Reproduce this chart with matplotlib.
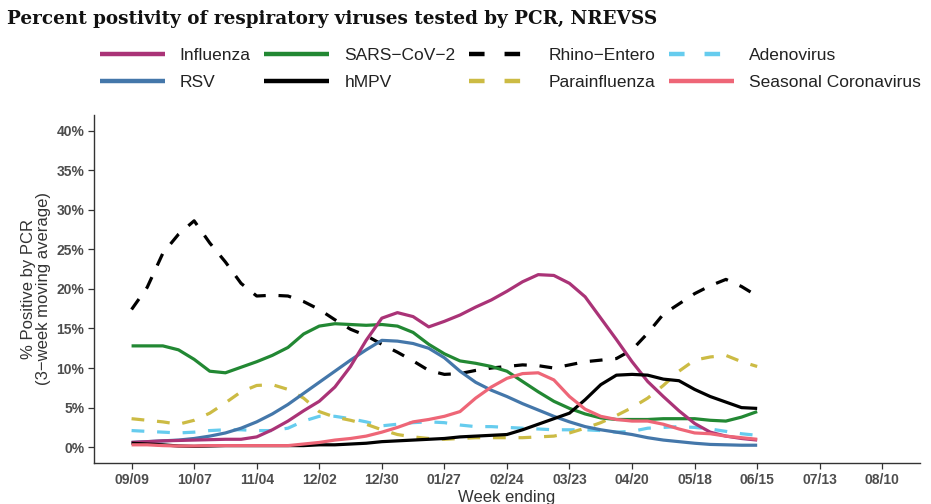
import matplotlib
matplotlib.use("Agg")
import matplotlib.pyplot as plt
import matplotlib.dates as mdates
from matplotlib.ticker import FixedLocator, FuncFormatter
from matplotlib.lines import Line2D
import pandas as pd

start_date = "2023-09-09"
n_weeks = 41
tick_dates = ["2023-09-09", "2023-10-07", "2023-11-04", "2023-12-02", "2023-12-30",
              "2024-01-27", "2024-02-24", "2024-03-23", "2024-04-20", "2024-05-18",
              "2024-06-15", "2024-07-13", "2024-08-10"]

influenza = [0.6, 0.7, 0.8, 0.85, 0.9, 0.95, 1.0, 1.0, 1.3, 2.2, 3.3, 4.6, 5.8, 7.6, 10.2,
             13.5, 16.3, 17.0, 16.5, 15.2, 15.9, 16.7, 17.7, 18.6, 19.7, 20.9, 21.8, 21.7,
             20.7, 19.0, 16.3, 13.6, 10.8, 8.3, 6.4, 4.6, 3.0, 1.9, 1.4, 1.1, 0.9]
rsv = [0.6, 0.7, 0.8, 0.9, 1.1, 1.4, 1.8, 2.4, 3.2, 4.2, 5.4, 6.8, 8.2, 9.6, 11.0, 12.3,
       13.5, 13.4, 13.1, 12.5, 11.3, 9.6, 8.2, 7.2, 6.4, 5.5, 4.7, 3.9, 3.2, 2.6, 2.2, 1.9,
       1.6, 1.2, 0.9, 0.7, 0.5, 0.35, 0.3, 0.25, 0.25]
sars = [12.8, 12.8, 12.8, 12.3, 11.1, 9.6, 9.4, 10.1, 10.8, 11.6, 12.6, 14.3, 15.3, 15.6,
        15.5, 15.4, 15.5, 15.3, 14.5, 13.0, 11.8, 10.9, 10.6, 10.2, 9.6, 8.3, 7.0, 5.8, 4.9,
        4.2, 3.7, 3.5, 3.5, 3.5, 3.6, 3.6, 3.6, 3.4, 3.3, 3.8, 4.5]
hmpv = [0.5, 0.4, 0.3, 0.15, 0.1, 0.15, 0.2, 0.2, 0.2, 0.2, 0.2, 0.2, 0.3, 0.3, 0.4, 0.5,
        0.7, 0.8, 0.9, 1.0, 1.1, 1.3, 1.4, 1.5, 1.6, 2.2, 2.9, 3.6, 4.3, 6.0, 7.9, 9.1, 9.2,
        9.1, 8.6, 8.4, 7.3, 6.4, 5.7, 5.0, 4.9]
rhino = [17.4, 20.2, 24.5, 26.9, 28.6, 25.8, 23.4, 20.7, 19.1, 19.2, 19.1, 18.4, 17.4, 16.1,
         14.9, 14.1, 13.0, 12.0, 10.9, 9.7, 9.2, 9.3, 9.7, 10.0, 10.2, 10.4, 10.3, 10.0, 10.4,
         10.8, 11.0, 11.2, 12.3, 14.4, 16.8, 18.1, 19.4, 20.4, 21.2, 20.3, 19.1]
parainfluenza = [3.6, 3.4, 3.2, 2.9, 3.4, 4.3, 5.6, 7.0, 7.8, 7.9, 7.3, 6.2, 4.5, 3.8, 3.4,
                 2.9, 2.2, 1.6, 1.3, 1.1, 1.0, 1.1, 1.2, 1.2, 1.2, 1.2, 1.3, 1.4, 1.8, 2.4,
                 3.1, 4.0, 5.0, 6.2, 7.8, 9.6, 11.0, 11.4, 11.6, 10.8, 10.2]
adeno = [2.1, 2.0, 1.9, 1.8, 1.9, 2.1, 2.2, 2.2, 2.1, 2.1, 2.4, 3.3, 3.9, 3.9, 3.6, 3.2, 2.7,
         2.9, 3.1, 3.2, 3.1, 2.8, 2.6, 2.6, 2.5, 2.4, 2.3, 2.2, 2.2, 2.2, 2.1, 1.9, 2.0, 2.4,
         2.5, 2.6, 2.5, 2.3, 2.0, 1.7, 1.5]
seasonal_cov = [0.3, 0.3, 0.2, 0.15, 0.15, 0.2, 0.2, 0.2, 0.2, 0.2, 0.2, 0.4, 0.6, 0.9, 1.1,
                1.4, 1.9, 2.5, 3.2, 3.5, 3.9, 4.5, 6.2, 7.6, 8.7, 9.3, 9.4, 8.5, 6.4, 4.8, 3.9,
                3.5, 3.3, 3.3, 2.9, 2.3, 1.8, 1.7, 1.4, 1.2, 1.0]

y_ticks = [0, 5, 10, 15, 20, 25, 30, 35, 40]

series = [
    ("Influenza", influenza, "#AA3377", "-"),
    ("RSV", rsv, "#4477AA", "-"),
    ("SARS\u2212CoV\u22122", sars, "#228833", "-"),
    ("hMPV", hmpv, "#000000", "-"),
    ("Rhino\u2212Entero", rhino, "#000000", "--"),
    ("Parainfluenza", parainfluenza, "#CCBB44", "--"),
    ("Adenovirus", adeno, "#66CCEE", "--"),
    ("Seasonal Coronavirus", seasonal_cov, "#EE6677", "-"),
]
draw_order = ["Rhino\u2212Entero", "Adenovirus", "Parainfluenza", "SARS\u2212CoV\u22122", "RSV",
              "Influenza", "hMPV", "Seasonal Coronavirus"]

plt.rcParams['font.family'] = ['Liberation Sans', 'DejaVu Sans']

dates = pd.date_range(start_date, periods=n_weeks, freq="7D")
ticks = pd.to_datetime(tick_dates)

fig = plt.figure(figsize=(9.31, 5.04), dpi=100)
ax = fig.add_axes([0.101, 0.0813, 0.887, 0.691])

leg_handles, leg_labels = [], []
for name, vals, col, ls in series:
    kw = dict(color=col, lw=2.3, solid_capstyle="butt", dash_capstyle="butt",
              zorder=3 + draw_order.index(name))
    hk = dict(color=col, lw=3.2, solid_capstyle="butt", dash_capstyle="butt")
    if ls == "--":
        kw["dashes"] = (4, 4)
        hk["dashes"] = (3.5, 4.5)
    ax.plot(dates, vals, **kw)
    leg_handles.append(Line2D([0], [0], **hk))
    leg_labels.append(name)

span = (ticks[-1] - ticks[0])
pad = span * 0.05
ax.set_xlim(ticks[0] - pad, ticks[-1] + pad)
ax.set_ylim(-2, 42)
ax.xaxis.set_major_locator(FixedLocator(mdates.date2num(ticks)))
ax.xaxis.set_major_formatter(mdates.DateFormatter("%m/%d"))
ax.yaxis.set_major_locator(FixedLocator(y_ticks))
ax.yaxis.set_major_formatter(FuncFormatter(lambda v, p: f"{int(v)}%"))

for s in ["top", "right"]:
    ax.spines[s].set_visible(False)
for s in ["left", "bottom"]:
    ax.spines[s].set_color("#333333")
    ax.spines[s].set_linewidth(1.0)
ax.tick_params(axis="both", length=4, width=0.9, color="#333333",
               labelsize=10, labelcolor="#4D4D4D", pad=3)
for lab in ax.get_xticklabels() + ax.get_yticklabels():
    lab.set_fontweight("bold")

ax.set_xlabel("Week ending", fontsize=12, color="#333333", labelpad=2)
ax.set_ylabel("% Positive by PCR\n(3\u2212week moving average)", fontsize=12,
              color="#333333", labelpad=4, linespacing=1.0)

fig.text(0.008, 0.962, "Percent postivity of respiratory viruses tested by PCR, NREVSS",
         fontsize=13.2, fontweight="bold", family=["DejaVu Serif"], va="center",
         ha="left", color="#111111")

leg = fig.legend(leg_handles, leg_labels,
                 ncol=4, loc="upper left", bbox_to_anchor=(0.1074, 0.905),
                 frameon=False, fontsize=12.5, handlelength=3.75, handletextpad=0.85,
                 columnspacing=0.78, labelspacing=0.68, borderaxespad=0, borderpad=0)
for t in leg.get_texts():
    t.set_color("#222222")

fig.savefig("out.png", dpi=100, facecolor="white")
